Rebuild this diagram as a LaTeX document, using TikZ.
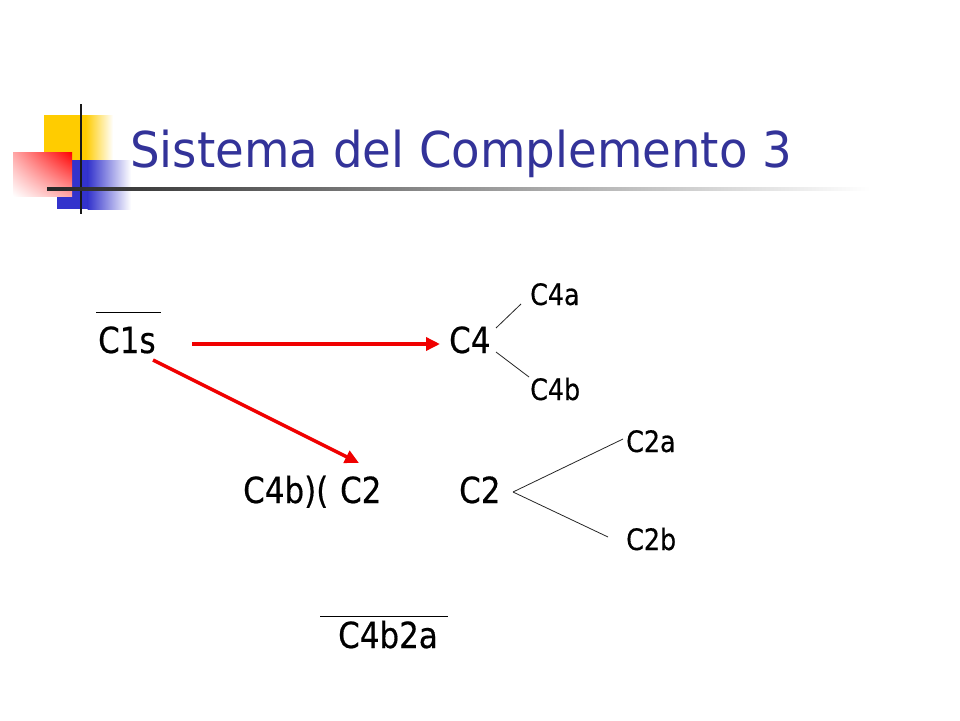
\documentclass[tikz,border=0pt]{standalone}
\usepackage{fontspec}
\setmainfont[FakeStretch=0.86,FakeBold=0.4]{DejaVu Sans}
\newfontfamily\titlefont[FakeStretch=0.945]{DejaVu Sans}
\usetikzlibrary{arrows.meta,shadings}
\definecolor{titleblue}{RGB}{51,51,153}
\definecolor{logoyellow}{RGB}{255,204,0}
\definecolor{logoblue}{RGB}{51,51,204}
\definecolor{arrowred}{RGB}{240,0,0}
\tikzset{
  bigtext/.style={anchor=base west, inner sep=0pt, font=\fontsize{36}{40}\selectfont, text height=26pt, text depth=0pt},
  smalltext/.style={anchor=base west, inner sep=0pt, font=\fontsize{29.5}{32}\selectfont, text height=21pt, text depth=0pt},
  redarrow/.style={draw=arrowred, line width=3.4pt, -{Triangle[length=14pt,width=13pt]}},
  branch/.style={draw=black!85, line width=0.8pt},
  overbar/.style={draw=black, line width=1pt}
}
\begin{document}
\begin{tikzpicture}[x=1pt,y=-1pt]
\useasboundingbox (0,0) rectangle (960,720);
\fill[white] (0,0) rectangle (960,720);
% logo
\fill[logoyellow] (44,115) rectangle (86,160);
\shade[left color=logoyellow, right color=white] (85.5,115) rectangle (113,160);
\fill[logoblue] (57,160) rectangle (88,209);
\shade[left color=logoblue, right color=white] (87.5,160) rectangle (131,209);
\shade[upper left=red!35, upper right=red, lower left=white, lower right=red!35] (13,152) rectangle (72,196);
\draw[line width=2.5pt, black!90] (81,104) -- (81,214);
\shade[left color=black!85, middle color=black!50, right color=white] (47,187) rectangle (870,190);
% title
\node[anchor=base west, inner sep=0pt, text=titleblue, font=\titlefont\fontsize{49.4}{52}\selectfont] (title) at (130,167) {Sistema del Complemento 3};
% nodes
\node[bigtext] (c1s) at (98,353) {C1s};
\node[bigtext] (c4) at (449,353) {C4};
\node[smalltext] (c4a) at (530,305) {C4a};
\node[smalltext] (c4b) at (530,400) {C4b};
\node[bigtext] (c4bc2) at (243,503) {C4b)(\hspace{2pt} C2};
\node[bigtext] (c2) at (459,503) {C2};
\node[smalltext] (c2a) at (626,452) {C2a};
\node[smalltext] (c2b) at (626,550) {C2b};
\node[bigtext] (c4b2a) at (338,648) {C4b2a};
% overbars
\draw[overbar] ([xshift=-2pt,yshift=41pt]c1s.base west) -- ([xshift=63pt,yshift=41pt]c1s.base west);
\draw[overbar] ([xshift=-18pt,yshift=32pt]c4b2a.base west) -- ([xshift=110pt,yshift=32pt]c4b2a.base west);
% red arrows
\draw[redarrow] ([xshift=94pt,yshift=9pt]c1s.base west) -- ([xshift=-9pt,yshift=9pt]c4.base west);
\draw[redarrow] ([xshift=55pt,yshift=-7pt]c1s.base west) -- ([xshift=116pt,yshift=40pt]c4bc2.base west);
% branches
\draw[branch] ([xshift=47pt,yshift=25pt]c4.base west) -- ([xshift=-9pt,yshift=1pt]c4a.base west);
\draw[branch] ([xshift=47pt,yshift=1pt]c4.base west) -- ([xshift=-1pt,yshift=23pt]c4b.base west);
\draw[branch] ([xshift=54pt,yshift=11pt]c2.base west) -- ([xshift=-3pt,yshift=13pt]c2a.base west);
\draw[branch] ([xshift=54pt,yshift=11pt]c2.base west) -- ([xshift=-18pt,yshift=13pt]c2b.base west);
\end{tikzpicture}
\end{document}
